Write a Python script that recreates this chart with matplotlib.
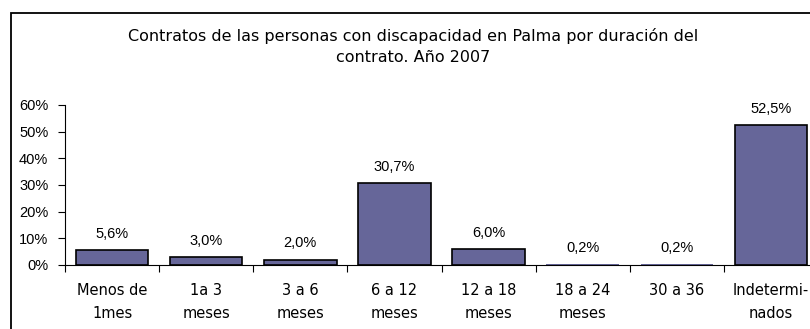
import matplotlib
matplotlib.use("Agg")
import matplotlib.pyplot as plt
from matplotlib.patches import Rectangle

categories = ["Menos de\n1mes", "1a 3\nmeses", "3 a 6\nmeses", "6 a 12\nmeses",
              "12 a 18\nmeses", "18 a 24\nmeses", "30 a 36", "Indetermi-\nnados"]
values = [5.6, 3.0, 2.0, 30.7, 6.0, 0.2, 0.2, 52.5]
value_labels = ["5,6%", "3,0%", "2,0%", "30,7%", "6,0%", "0,2%", "0,2%", "52,5%"]
yticks = [0, 10, 20, 30, 40, 50, 60]
ytick_labels = ["0%", "10%", "20%", "30%", "40%", "50%", "60%"]
title = "Contratos de las personas con discapacidad en Palma por duración del\ncontrato. Año 2007"

plt.rcParams['font.family'] = ['Liberation Sans', 'DejaVu Sans']
wide_font = ['DejaVu Sans']

W, H = 810, 329
fig = plt.figure(figsize=(W / 100, H / 100), dpi=100)

# outer chart frame (runs off the right and bottom edges)
fig.patches.append(Rectangle((11 / W, -0.05), 1.2, (H - 13) / H + 0.05,
                             transform=fig.transFigure, fill=False,
                             edgecolor="black", linewidth=1.3))

fig.text(413.5 / W, 1 - 28 / H, title, ha="center", va="top",
         fontsize=11.5, linespacing=1.5, family=wide_font)

# plot area: x from 65px to ~818px, y from 105px (60%) to 265px (0%)
left, right = 65 / W, 818 / W
bottom, top = 1 - 265 / H, 1 - 105 / H
ax = fig.add_axes([left, bottom, right - left, top - bottom])

x = list(range(len(values)))
# very small bars are drawn without an outline so they do not thicken the axis
edge_widths = [1.2 if v >= 0.5 else 0 for v in values]
ax.bar(x, values, width=0.77, color="#666699", edgecolor="black",
       linewidth=edge_widths)

for xi, v, lab in zip(x, values, value_labels):
    ax.annotate(lab, (xi, v), xytext=(0, 8.8), textcoords="offset points",
                ha="center", va="baseline", fontsize=10.5)

ax.set_xlim(-0.5, len(values) - 0.5)
ax.set_ylim(0, 60)
ax.set_yticks(yticks)
ax.set_yticklabels(ytick_labels, fontsize=10.5)
ax.set_xticks([i - 0.5 for i in range(len(values) + 1)])
ax.set_xticklabels([])
ax.set_xticks(x, minor=True)
ax.set_xticklabels(categories, minor=True, fontsize=10.5, linespacing=1.7,
                   family=wide_font)
ax.tick_params(axis="x", which="major", direction="out", length=5, width=0.8)
ax.tick_params(axis="x", which="minor", length=0, pad=13)
ax.tick_params(axis="y", direction="out", length=5, width=0.8, pad=7)

for s in ("top", "right"):
    ax.spines[s].set_visible(False)
ax.spines["left"].set_linewidth(0.8)
ax.spines["bottom"].set_linewidth(0.8)
ax.patch.set_alpha(0)

fig.savefig("out.png", dpi=100)
